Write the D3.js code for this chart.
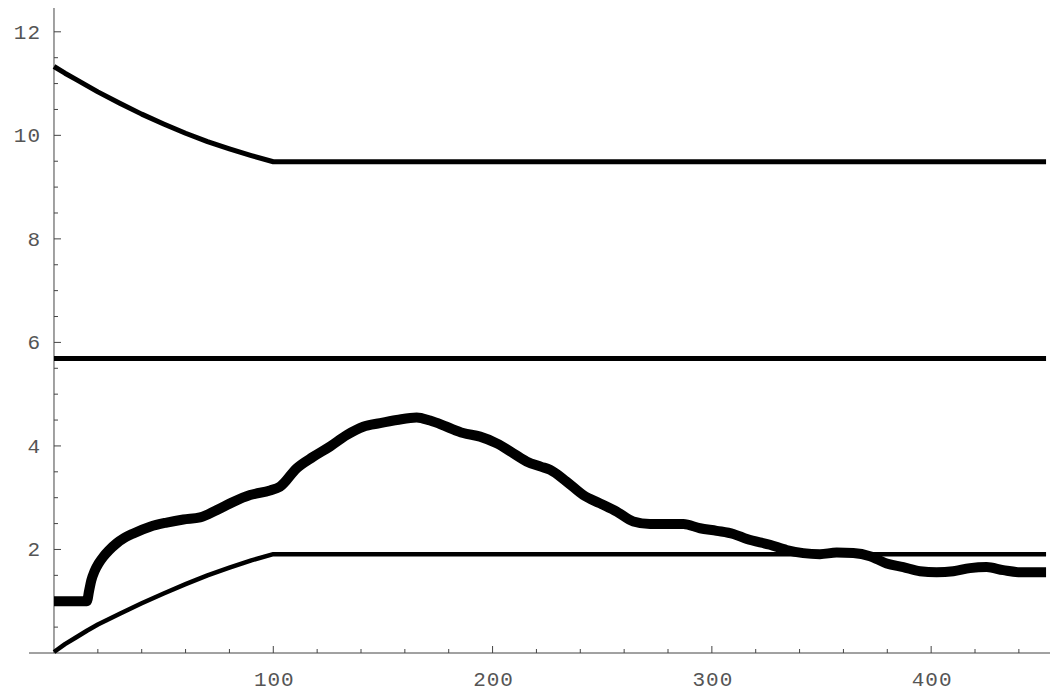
<!DOCTYPE html>
<html>
<head>
<meta charset="utf-8">
<script src="https://cdn.jsdelivr.net/npm/d3@7/dist/d3.min.js"></script>
<style>
  html, body { margin:0; padding:0; background:#fff; }
  svg { display:block; }
  .tick-label { font-family:'Liberation Mono','DejaVu Sans Mono',monospace; fill:#555; }
</style>
</head>
<body>
<svg id="chart" width="1050" height="691"></svg>
<script>
// Mathematica-style plot: two bounding curves, a constant level and a thick measured trace.

// upper bound: falls until t=100, then flat
const upperT = [0, 5, 10, 15, 20, 30, 40, 50, 60, 70, 80, 90, 100, 452.4];
const upperV = [11.33, 11.2, 11.08, 10.96, 10.84, 10.62, 10.41, 10.22, 10.04, 9.88, 9.74, 9.61, 9.49, 9.49];

// lower bound: rises until t=100, then flat
const lowerT = [0, 5, 10, 15, 20, 30, 40, 50, 60, 70, 80, 90, 100, 452.4];
const lowerV = [0.02, 0.17, 0.3, 0.43, 0.55, 0.76, 0.96, 1.15, 1.33, 1.5, 1.65, 1.79, 1.91, 1.91];

// constant level
const levelT = [0, 452.4];
const levelV = [5.69, 5.69];

// thick trace
const traceT = [0, 15, 16, 17, 18.5, 20.5, 22.5, 25, 28.6, 32, 36.2, 43.8, 51.4, 59, 66.6, 74.2, 81.8, 89.4, 98.5,
  103, 110.7, 118.2, 125.9, 133.5, 141, 148.7, 156.3, 165.4, 171.5, 179.1, 186.6, 194.3, 201.9, 209.4, 215.5,
  222, 226.2, 233.8, 241.4, 249, 256.6, 264.2, 271.8, 279.4, 287, 294.6, 302.2, 309.8, 316, 326.5, 334.1,
  341.7, 349.3, 356.9, 364.5, 372.1, 379.7, 387.3, 394.9, 402.5, 410.1, 417.7, 425.3, 432.9, 440.5, 452.4];
const traceV = [1.0, 1.0, 1.2, 1.4, 1.58, 1.74, 1.86, 1.98, 2.12, 2.22, 2.31, 2.44, 2.52, 2.58, 2.62, 2.76, 2.92, 3.05, 3.14,
  3.21, 3.57, 3.79, 3.99, 4.21, 4.37, 4.44, 4.50, 4.55, 4.49, 4.37, 4.25, 4.18, 4.05, 3.86, 3.70,
  3.6, 3.54, 3.31, 3.05, 2.89, 2.73, 2.54, 2.49, 2.49, 2.49, 2.41, 2.36, 2.30, 2.2, 2.09, 1.99,
  1.93, 1.91, 1.94, 1.93, 1.87, 1.73, 1.66, 1.58, 1.56, 1.58, 1.64, 1.66, 1.60, 1.56, 1.56];

// ticks
const xMajor = [100, 200, 300, 400];
const xMinor = [20, 40, 60, 80, 120, 140, 160, 180, 220, 240, 260, 280, 320, 340, 360, 380, 420, 440];
const yMajor = [2, 4, 6, 8, 10, 12];
const yMinor = [0.5, 1, 1.5, 2.5, 3, 3.5, 4.5, 5, 5.5, 6.5, 7, 7.5, 8.5, 9, 9.5, 10.5, 11, 11.5];

(function(){
  const svg = d3.select('#chart');
  const x = d3.scaleLinear().domain([-11.4, 454.2]).range([29, 1050]);
  const y = d3.scaleLinear().domain([0, 12.46]).range([653, 8]);

  const axisColor = '#444';

  // axes cross at the origin
  const ax = svg.append('g').attr('class','axes');
  ax.append('line')
    .attr('x1', x(-11.4)).attr('x2', x(454.2))
    .attr('y1', y(0)).attr('y2', y(0))
    .attr('stroke', axisColor).attr('stroke-width', 1);
  ax.append('line')
    .attr('x1', x(0)).attr('x2', x(0))
    .attr('y1', y(0)).attr('y2', y(12.46))
    .attr('stroke', axisColor).attr('stroke-width', 1);

  // x ticks point up into the plot
  ax.selectAll('line.xmaj').data(xMajor).enter().append('line')
    .attr('class','xmaj')
    .attr('x1', d => x(d)).attr('x2', d => x(d))
    .attr('y1', y(0)).attr('y2', y(0) - 7)
    .attr('stroke', axisColor);
  ax.selectAll('line.xmin').data(xMinor).enter().append('line')
    .attr('class','xmin')
    .attr('x1', d => x(d)).attr('x2', d => x(d))
    .attr('y1', y(0)).attr('y2', y(0) - 4)
    .attr('stroke', axisColor);
  ax.selectAll('text.xl').data(xMajor).enter().append('text')
    .attr('class','tick-label xl')
    .attr('x', d => x(d) + 1).attr('y', 686)
    .attr('text-anchor','middle')
    .style('font-size','21px')
    .style('letter-spacing','1px')
    .text(d => d);

  // y ticks point right
  ax.selectAll('line.ymaj').data(yMajor).enter().append('line')
    .attr('class','ymaj')
    .attr('x1', x(0)).attr('x2', x(0) + 7)
    .attr('y1', d => y(d)).attr('y2', d => y(d))
    .attr('stroke', axisColor);
  ax.selectAll('line.ymin').data(yMinor).enter().append('line')
    .attr('class','ymin')
    .attr('x1', x(0)).attr('x2', x(0) + 4)
    .attr('y1', d => y(d)).attr('y2', d => y(d))
    .attr('stroke', axisColor);
  ax.selectAll('text.yl').data(yMajor).enter().append('text')
    .attr('class','tick-label yl')
    .attr('x', 41).attr('y', d => y(d) + 7)
    .attr('text-anchor','end')
    .style('font-size','21px')
    .style('letter-spacing','1px')
    .text(d => d);

  const zip = (ts, vs) => ts.map((t,i) => [t, vs[i]]);
  const line = d3.line().x(d => x(d[0])).y(d => y(d[1]));
  const smooth = d3.line().x(d => x(d[0])).y(d => y(d[1])).curve(d3.curveMonotoneX);

  // bounds have a hard corner at t=100, so keep them piecewise linear
  const series = [
    { pts: zip(upperT, upperV), w: 5, gen: line },
    { pts: zip(levelT, levelV), w: 5, gen: line },
    { pts: zip(lowerT, lowerV), w: 4.5, gen: line },
    { pts: zip(traceT, traceV), w: 10, gen: smooth }
  ];

  svg.append('g').attr('class','series').selectAll('path').data(series).enter().append('path')
    .attr('d', d => d.gen(d.pts))
    .attr('fill','none')
    .attr('stroke','#000')
    .attr('stroke-width', d => d.w)
    .attr('stroke-linejoin','round');
})();
</script>
</body>
</html>
